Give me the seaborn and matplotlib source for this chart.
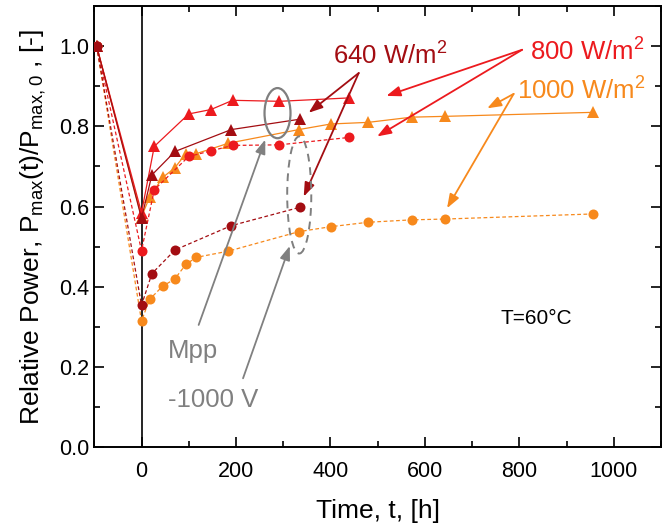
import numpy as np
import pandas as pd
import matplotlib
matplotlib.use("Agg")
import matplotlib.pyplot as plt
from matplotlib.patches import Ellipse
from matplotlib.ticker import MultipleLocator
import seaborn as sns

# --- data: relative power vs. time for three irradiance levels ---
t_start = -95
p_start = 1.0

t_640 = [0, 22, 71, 190, 336]
mpp_640 = [0.571, 0.679, 0.7375, 0.792, 0.818]
hv_640 = [0.354, 0.433, 0.492, 0.5525, 0.5985]

t_800 = [0, 27, 100, 147, 193, 292, 440]
mpp_800 = [0.585, 0.75, 0.831, 0.842, 0.865, 0.8625, 0.871]
hv_800 = [0.49, 0.642, 0.725, 0.739, 0.7525, 0.754, 0.7725]

t_1000 = [0, 17, 45, 70, 94, 116, 184, 333, 401, 480, 572, 643, 956]
mpp_1000 = [0.575, 0.623, 0.673, 0.696, 0.732, 0.732, 0.758, 0.792, 0.806,
            0.81, 0.823, 0.825, 0.835]
hv_1000 = [0.315, 0.3685, 0.402, 0.419, 0.456, 0.4735, 0.489, 0.5375, 0.55,
           0.561, 0.567, 0.569, 0.5817]

irradiances = ["1000", "800", "640"]
modes = ["Mpp", "-1000 V"]

colors = {"640": "#a30d12", "800": "#ec1a1e", "1000": "#f7891c"}

series = {
    ("640", "Mpp"): (t_640, mpp_640),
    ("640", "-1000 V"): (t_640, hv_640),
    ("800", "Mpp"): (t_800, mpp_800),
    ("800", "-1000 V"): (t_800, hv_800),
    ("1000", "Mpp"): (t_1000, mpp_1000),
    ("1000", "-1000 V"): (t_1000, hv_1000),
}

rows = []
for (irr, mode), (ts, ps) in series.items():
    rows.append(dict(t=t_start, p=p_start, irr=irr, mode=mode, order=-1))
    for i, (tt, pp) in enumerate(zip(ts, ps)):
        rows.append(dict(t=tt, p=pp, irr=irr, mode=mode, order=i))
df = pd.DataFrame(rows)

sns.set_theme(style="ticks")
plt.rcParams["font.family"] = ["Liberation Sans", "DejaVu Sans"]
plt.rcParams["mathtext.default"] = "regular"

fig = plt.figure(figsize=(6.72, 5.25), dpi=100)
ax = fig.add_axes([0.1403, 0.148, 0.8433, 0.8405])

# vertical reference line at the start of stress
ax.axvline(0, color="black", lw=1.2, zorder=1)

for irr in irradiances:
    for mode in modes:
        sub = df[(df.irr == irr) & (df["mode"] == mode)].sort_values("order")
        if mode == "Mpp":
            ls, mk, ms = "-", "^", 8.5
        else:
            ls, mk, ms = (0, (3, 2)), "o", 7.2
        sns.lineplot(data=sub, x="t", y="p", ax=ax, sort=False,
                     estimator=None, color=colors[irr], lw=0.9,
                     linestyle=ls, marker=mk, markersize=ms,
                     markeredgewidth=0, zorder=3)

# groups of points highlighted by ellipses
ax.add_patch(Ellipse((288, 0.833), 55, 0.125, fill=False,
                     edgecolor="#7f7f7f", lw=1.6, zorder=4))
ax.add_patch(Ellipse((334, 0.629), 51, 0.292, fill=False,
                     edgecolor="#7f7f7f", lw=1.4, ls=(0, (4, 3)), zorder=4))

arrow = dict(arrowstyle="-|>,head_length=0.6,head_width=0.22", lw=1.3,
             mutation_scale=14, shrinkA=0, shrinkB=0)

# text labels
fs_lab = 18.5
ax.text(406, 0.953, "640 W/m$^2$", color=colors["640"], fontsize=fs_lab,
        va="baseline")
ax.text(823, 0.963, "800 W/m$^2$", color=colors["800"], fontsize=fs_lab,
        va="baseline")
ax.text(795, 0.868, "1000 W/m$^2$", color=colors["1000"], fontsize=fs_lab,
        va="baseline")
ax.text(56, 0.222, "Mpp", color="#808080", fontsize=fs_lab, va="baseline")
ax.text(56, 0.101, "-1000 V", color="#808080", fontsize=fs_lab,
        va="baseline")
ax.text(760, 0.307, "T=60°C", color="black", fontsize=15, va="baseline")

# arrows pointing from labels to curves
for head in [(354, 0.834), (343.5, 0.625)]:
    ax.annotate("", xy=head, xytext=(460, 0.933),
                arrowprops=dict(arrow, color=colors["640"]))
for head in [(518.5, 0.876), (499, 0.775)]:
    ax.annotate("", xy=head, xytext=(806, 0.991),
                arrowprops=dict(arrow, color=colors["800"]))
for head in [(732, 0.845), (647, 0.596)]:
    ax.annotate("", xy=head, xytext=(788, 0.881),
                arrowprops=dict(arrow, color=colors["1000"]))
ax.annotate("", xy=(262, 0.767), xytext=(121, 0.305),
            arrowprops=dict(arrow, color="#808080"))
ax.annotate("", xy=(314, 0.502), xytext=(215, 0.172),
            arrowprops=dict(arrow, color="#808080"))

ax.set_xlim(-100, 1100)
ax.set_ylim(0, 1.1)
ax.xaxis.set_major_locator(MultipleLocator(200))
ax.xaxis.set_minor_locator(MultipleLocator(100))
ax.yaxis.set_major_locator(MultipleLocator(0.2))
ax.yaxis.set_minor_locator(MultipleLocator(0.1))
ax.yaxis.set_major_formatter(matplotlib.ticker.FormatStrFormatter("%.1f"))
ax.tick_params(which="both", direction="in", top=True, right=True,
               color="black", width=1.2, labelsize=15.5, labelcolor="black")
ax.tick_params(which="major", length=7)
ax.tick_params(which="minor", length=4)
ax.tick_params(axis="x", which="both", pad=10)
for sp in ax.spines.values():
    sp.set_visible(True)
    sp.set_color("black")
    sp.set_linewidth(1.4)

ax.set_xlabel("Time, t, [h]", fontsize=19, color="black", labelpad=12)
ax.set_ylabel("Relative Power, P$_{max}$(t)/P$_{max,0}$ , [-]",
              fontsize=19, color="black", labelpad=8)

fig.savefig("out.png", dpi=100)
